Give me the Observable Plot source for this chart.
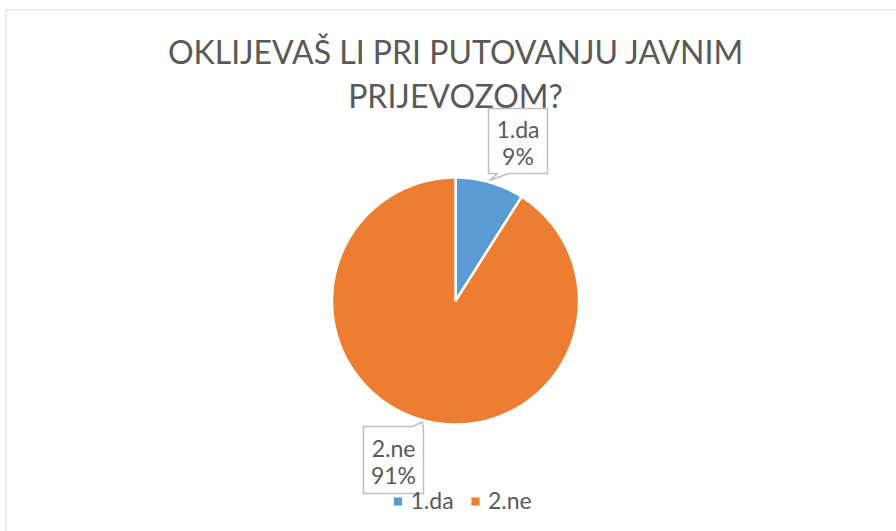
<!DOCTYPE html>
<html>
<head>
<meta charset="utf-8">
<script src="https://cdn.jsdelivr.net/npm/d3@7"></script>
<script src="https://cdn.jsdelivr.net/npm/@observablehq/plot@0.6"></script>
<style>
  html, body { margin: 0; padding: 0; background: #fff; }
  #chart { width: 896px; height: 531px; overflow: hidden; }
</style>
</head>
<body>
<div id="chart"></div>
<script>
// ---- data ----
const title = ["OKLIJEVAŠ LI PRI PUTOVANJU JAVNIM", "PRIJEVOZOM?"];
const categories = ["1.da", "2.ne"];
const values = [9, 91];           // percent
const colors = ["#5B9BD5", "#ED7D31"];

// ---- layout ----
const W = 896, H = 531;
const cx = 455, cy = 300.5, R = 123.5;
const FONT = "Lato, 'Open Sans', sans-serif";
const TEXT = "#595959";
const labelPos = [ {x: 517.5, y: 142.5}, {x: 393, y: 461.5} ];
// callout outlines, relative to label centres
const calloutShape = [
  [[-29.5,-34.5],[29.5,-34.5],[29.5,30.5],[-9.5,30.5],[-28.5,37.5],[-20.5,30.5],[-29.5,30.5],[-29.5,-34.5]],
  [[-30,-35.5],[19,-35.5],[29,-40],[30,-31],[30,31.5],[-30,31.5],[-30,-35.5]]
];
const legendY = 501;
const legendX = [397.5, 475];

// ---- derived ----
const total = d3.sum(values);
const pie = d3.pie().sort(null).value(d => d.value)(categories.map((c, i) => ({cat: c, value: values[i]})));
const slicePts = [];
pie.forEach(s => {
  const n = Math.max(2, Math.ceil((s.endAngle - s.startAngle) / 0.01));
  slicePts.push({cat: s.data.cat, x: cx, y: cy});
  for (let k = 0; k <= n; k++) {
    const a = s.startAngle + (s.endAngle - s.startAngle) * k / n;
    slicePts.push({cat: s.data.cat, x: cx + R * Math.sin(a), y: cy - R * Math.cos(a)});
  }
});
const calloutPts = [];
pie.forEach((s, i) => {
  calloutShape[i].forEach(([dx, dy]) => calloutPts.push({cat: s.data.cat, x: labelPos[i].x + dx, y: labelPos[i].y + dy}));
});
const labels = pie.map((s, i) => ({
  cat: s.data.cat, x: labelPos[i].x, y: labelPos[i].y,
  text: `${s.data.cat}\n${Math.round(s.data.value / total * 100)}%`
}));
const legend = categories.map((c, i) => ({cat: c, x: legendX[i], y: legendY}));

const chart = Plot.plot({
  width: W, height: H,
  margin: 0,
  style: {fontFamily: FONT, background: "#fff"},
  x: {domain: [0, W], range: [0, W], axis: null},
  y: {domain: [0, H], range: [0, H], axis: null},
  color: {domain: categories, range: colors},
  marks: [
    Plot.frame({stroke: "#d9d9d9", insetLeft: 5.5, insetTop: 9.5, insetRight: -10, insetBottom: -10}),
    Plot.text(title, {x: () => 455, y: (d, i) => 53 + i * 44, text: d => d, fontSize: 32, fill: TEXT, textAnchor: "middle"}),
    Plot.line(slicePts, {x: "x", y: "y", z: "cat", fill: "cat", stroke: "white", strokeWidth: 2.5, curve: "linear-closed", strokeLinejoin: "miter"}),
    Plot.line(calloutPts, {x: "x", y: "y", z: "cat", fill: "white", stroke: "#bfbfbf", strokeWidth: 1.5}),
    Plot.text(labels, {x: "x", y: "y", text: "text", fontSize: 23, lineHeight: 1.17, fill: TEXT, textAnchor: "middle"}),
    Plot.dot(legend, {x: "x", y: "y", fill: "cat", symbol: "square", r: 4.6}),
    Plot.text(legend, {x: d => d.x + 12.5, y: "y", text: "cat", fontSize: 23, fill: TEXT, textAnchor: "start"})
  ]
});
document.getElementById("chart").appendChild(chart);
</script>
</body>
</html>
